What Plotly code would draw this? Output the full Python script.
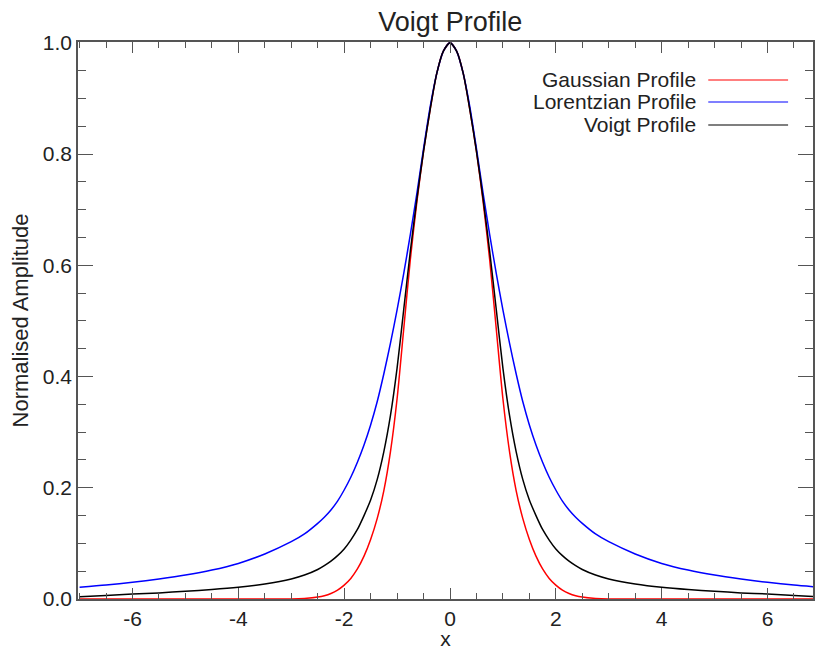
import plotly.graph_objects as go

# ---- data ----
x_values = [-7, -6.5, -6, -5.5, -5, -4.5, -4, -3.5, -3, -2.75,
            -2.5, -2.375, -2.25, -2.125, -2, -1.875, -1.75, -1.625, -1.5, -1.375,
            -1.25, -1.125, -1, -0.875, -0.75, -0.625, -0.5, -0.375, -0.25, -0.125,
            0,
            0.125, 0.25, 0.375, 0.5, 0.625, 0.75, 0.875, 1, 1.125, 1.25,
            1.375, 1.5, 1.625, 1.75, 1.875, 2, 2.125, 2.25, 2.375, 2.5,
            2.75, 3, 3.5, 4, 4.5, 5, 5.5, 6, 6.5, 7]

gaussian = [0, 0, 0, 0, 0, 0, 0, 0, 0, 0.001,
            0.0035, 0.006, 0.010, 0.016, 0.025, 0.037, 0.054, 0.077, 0.107, 0.145,
            0.195, 0.265, 0.36, 0.485, 0.61, 0.715, 0.805, 0.88, 0.945, 0.985,
            1.0,
            0.985, 0.945, 0.88, 0.805, 0.715, 0.61, 0.485, 0.36, 0.265, 0.195,
            0.145, 0.107, 0.077, 0.054, 0.037, 0.025, 0.016, 0.010, 0.006, 0.0035,
            0.001, 0, 0, 0, 0, 0, 0, 0, 0, 0]

lorentzian = [0.021, 0.025, 0.030, 0.036, 0.043, 0.052, 0.064, 0.081, 0.103, 0.117,
              0.136, 0.147, 0.160, 0.176, 0.196, 0.219, 0.246, 0.277, 0.313, 0.355,
              0.405, 0.460, 0.520, 0.585, 0.655, 0.730, 0.810, 0.885, 0.945, 0.985,
              1.0,
              0.985, 0.945, 0.885, 0.810, 0.730, 0.655, 0.585, 0.520, 0.460, 0.405,
              0.355, 0.313, 0.277, 0.246, 0.219, 0.196, 0.176, 0.160, 0.147, 0.136,
              0.117, 0.103, 0.081, 0.064, 0.052, 0.043, 0.036, 0.030, 0.025, 0.021]

voigt = [0.004, 0.0065, 0.009, 0.011, 0.014, 0.017, 0.021, 0.027, 0.036, 0.043,
         0.053, 0.060, 0.068, 0.078, 0.090, 0.106, 0.125, 0.150, 0.178, 0.215,
         0.265, 0.330, 0.415, 0.520, 0.625, 0.720, 0.805, 0.880, 0.945, 0.985,
         1.0,
         0.985, 0.945, 0.880, 0.805, 0.720, 0.625, 0.520, 0.415, 0.330, 0.265,
         0.215, 0.178, 0.150, 0.125, 0.106, 0.090, 0.078, 0.068, 0.060, 0.053,
         0.043, 0.036, 0.027, 0.021, 0.017, 0.014, 0.011, 0.009, 0.0065, 0.004]

series_names = ["Gaussian Profile", "Lorentzian Profile", "Voigt Profile"]
series_colors = ["#ff0000", "#0000ff", "#000000"]
x_ticks = [-6, -4, -2, 0, 2, 4, 6]
y_ticks = [0.0, 0.2, 0.4, 0.6, 0.8, 1.0]

FONT = "Liberation Sans, Arial, Helvetica, sans-serif"
TXT = "#222222"
AX = "#555555"
FS = 21

fig = go.Figure()
for name, ys, col in zip(series_names, [gaussian, lorentzian, voigt], series_colors):
    fig.add_trace(go.Scatter(x=x_values, y=ys, mode="lines", name=name,
                             line=dict(color=col, width=1.5, shape="spline", smoothing=0.7),
                             showlegend=False))

# legend drawn as text-left / line-right, like the reference
leg_y = [0.9318, 0.8923, 0.851]
for name, col, yy in zip(series_names, series_colors, leg_y):
    fig.add_annotation(xref="paper", yref="paper", x=0.8435, y=yy, text=name,
                       showarrow=False, xanchor="right", yanchor="middle",
                       font=dict(family=FONT, size=FS, color=TXT))
    fig.add_shape(type="line", xref="paper", yref="paper", x0=0.8575, x1=0.9661,
                  y0=yy, y1=yy, line=dict(color=col, width=1.2))

fig.update_layout(
    width=815, height=650,
    margin=dict(l=78, r=0, t=42, b=51),
    paper_bgcolor="white", plot_bgcolor="white",
    font=dict(family=FONT, size=FS, color=TXT),
    title=dict(text="Voigt Profile", x=0.5525, xanchor="center", y=1 - 22 / 650,
               yanchor="middle", yref="container",
               font=dict(family=FONT, size=27, color=TXT)),
)
fig.update_xaxes(
    range=[-7.03, 6.86], tickvals=x_ticks, ticktext=[str(v) for v in x_ticks],
    ticks="inside", ticklen=11, tickwidth=1.2, tickcolor=AX,
    showline=True, linecolor=AX, linewidth=1.5, mirror="allticks",
    showgrid=False, zeroline=False,
    minor=dict(ticks="inside", ticklen=6, tickwidth=1, tickcolor=AX, dtick=0.5, showgrid=False),
    title=dict(text="x", font=dict(family=FONT, size=FS, color=TXT), standoff=2),
    tickfont=dict(family=FONT, size=FS, color=TXT),
)
fig.update_yaxes(
    range=[0.0, 1.0015], tickvals=y_ticks, ticktext=["%.1f" % v for v in y_ticks],
    ticks="inside", ticklen=15, tickwidth=1.2, tickcolor=AX,
    showline=True, linecolor=AX, linewidth=1.5, mirror="allticks",
    showgrid=False, zeroline=False,
    minor=dict(ticks="inside", ticklen=8, tickwidth=1, tickcolor=AX, dtick=0.05, showgrid=False),
    title=dict(text="Normalised Amplitude", font=dict(family=FONT, size=22, color=TXT), standoff=8),
    tickfont=dict(family=FONT, size=FS, color=TXT),
)

fig.write_html("out.html")
